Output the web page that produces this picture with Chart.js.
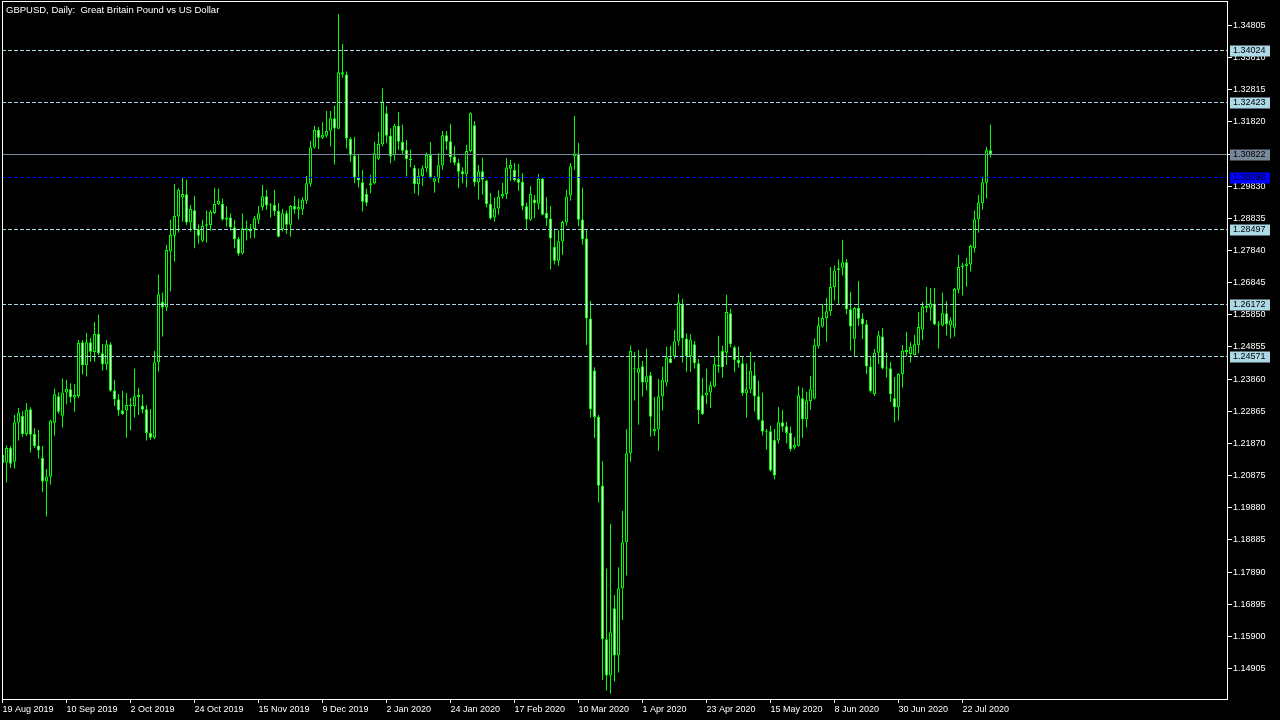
<!DOCTYPE html>
<html>
<head>
<meta charset="utf-8">
<title>GBPUSD, Daily</title>
<script src="https://cdn.jsdelivr.net/npm/chart.js@4.4.1/dist/chart.umd.min.js"></script>
<style>
  html, body { margin: 0; padding: 0; background: #000; }
  canvas { display: block; }
</style>
</head>
<body>
<canvas id="gbpusd" width="1280" height="720"></canvas>
<script>
// daily bars, 19 Aug 2019 .. 31 Jul 2020
const opens = [
  1.2151, 1.2128, 1.2173, 1.2130, 1.2251, 1.2272, 1.2216, 1.2293, 1.2216, 1.2181,
  1.2142, 1.2069, 1.2084, 1.2251, 1.2333, 1.2273, 1.2345, 1.2355, 1.2329, 1.2334,
  1.2500, 1.2429, 1.2500, 1.2470, 1.2526, 1.2466, 1.2432, 1.2494, 1.2351, 1.2324,
  1.2289, 1.2289, 1.2302, 1.2302, 1.2330, 1.2304, 1.2293, 1.2219, 1.2205, 1.2438,
  1.2625, 1.2608, 1.2781, 1.2830, 1.2889, 1.2948, 1.2958, 1.2871, 1.2909, 1.2850,
  1.2814, 1.2861, 1.2863, 1.2900, 1.2927, 1.2928, 1.2880, 1.2886, 1.2856, 1.2820,
  1.2775, 1.2846, 1.2850, 1.2851, 1.2879, 1.2919, 1.2952, 1.2925, 1.2925, 1.2906,
  1.2851, 1.2899, 1.2864, 1.2922, 1.2911, 1.2911, 1.2938, 1.2991, 1.3103, 1.3157,
  1.3133, 1.3139, 1.3155, 1.3193, 1.3161, 1.3329, 1.3329, 1.3129, 1.3078, 1.3010,
  1.2995, 1.2959, 1.2986, 1.2992, 1.3068, 1.3113, 1.3209, 1.3139, 1.3079, 1.3170,
  1.3120, 1.3095, 1.3068, 1.3040, 1.2989, 1.3015, 1.3039, 1.3080, 1.2997, 1.3007,
  1.3047, 1.3141, 1.3122, 1.3075, 1.3056, 1.3029, 1.3020, 1.3092, 1.3172, 1.2995,
  1.3029, 1.3001, 1.2928, 1.2886, 1.2914, 1.2951, 1.2959, 1.3037, 1.3033, 1.3005,
  1.2997, 1.2921, 1.2879, 1.2942, 1.2929, 1.3006, 1.2900, 1.2883, 1.2795, 1.2752,
  1.2812, 1.2871, 1.2954, 1.3075, 1.3084, 1.2880, 1.2821, 1.2574, 1.2413, 1.2269,
  1.2056, 1.1581, 1.1469, 1.1677, 1.1531, 1.1739, 1.1881, 1.2157, 1.2420, 1.2406,
  1.2426, 1.2376, 1.2398, 1.2224, 1.2230, 1.2333, 1.2376, 1.2451, 1.2457, 1.2503,
  1.2616, 1.2512, 1.2457, 1.2494, 1.2435, 1.2336, 1.2336, 1.2345, 1.2363, 1.2425,
  1.2473, 1.2468, 1.2590, 1.2485, 1.2445, 1.2435, 1.2342, 1.2354, 1.2398, 1.2333,
  1.2259, 1.2225, 1.2225, 1.2198, 1.2196, 1.2253, 1.2240, 1.2219, 1.2174, 1.2180,
  1.2327, 1.2262, 1.2318, 1.2326, 1.2488, 1.2549, 1.2575, 1.2596, 1.2671, 1.2723,
  1.2731, 1.2748, 1.2602, 1.2511, 1.2606, 1.2574, 1.2556, 1.2425, 1.2340, 1.2468,
  1.2518, 1.2419, 1.2420, 1.2327, 1.2299, 1.2401, 1.2476, 1.2464, 1.2461, 1.2491,
  1.2539, 1.2607, 1.2607, 1.2619, 1.2556, 1.2552, 1.2590, 1.2553, 1.2545, 1.2663,
  1.2732, 1.2736, 1.2741, 1.2791, 1.2881, 1.2930, 1.2994, 1.3094
];
const highs = [
  1.2162, 1.2181, 1.2179, 1.2275, 1.2297, 1.2287, 1.2312, 1.2299, 1.2235, 1.2229,
  1.2179, 1.2108, 1.2260, 1.2356, 1.2345, 1.2387, 1.2383, 1.2373, 1.2370, 1.2507,
  1.2507, 1.2529, 1.2513, 1.2563, 1.2585, 1.2495, 1.2507, 1.2500, 1.2383, 1.2340,
  1.2350, 1.2343, 1.2328, 1.2418, 1.2359, 1.2339, 1.2306, 1.2294, 1.2473, 1.2709,
  1.2653, 1.2801, 1.2879, 1.2990, 1.2977, 1.3010, 1.3003, 1.2925, 1.2953, 1.2865,
  1.2879, 1.2907, 1.2909, 1.2978, 1.2975, 1.2944, 1.2920, 1.2899, 1.2879, 1.2827,
  1.2899, 1.2876, 1.2866, 1.2891, 1.2922, 1.2987, 1.2972, 1.2930, 1.2972, 1.2931,
  1.2913, 1.2908, 1.2925, 1.2953, 1.2944, 1.2949, 1.3015, 1.3123, 1.3170, 1.3166,
  1.3182, 1.3216, 1.3216, 1.3232, 1.3516, 1.3423, 1.3338, 1.3135, 1.3135, 1.3082,
  1.3033, 1.2975, 1.3018, 1.3121, 1.3151, 1.3286, 1.3231, 1.3162, 1.3176, 1.3213,
  1.3173, 1.3126, 1.3097, 1.3049, 1.3038, 1.3047, 1.3087, 1.3120, 1.3015, 1.3085,
  1.3154, 1.3154, 1.3176, 1.3108, 1.3067, 1.3042, 1.3111, 1.3212, 1.3185, 1.3049,
  1.3072, 1.3003, 1.2962, 1.2948, 1.2970, 1.2993, 1.3070, 1.3064, 1.3055, 1.3052,
  1.3024, 1.2933, 1.2984, 1.2956, 1.3021, 1.3010, 1.2950, 1.2922, 1.2852, 1.2847,
  1.2876, 1.2972, 1.3055, 1.3200, 1.3117, 1.2978, 1.2847, 1.2628, 1.2423, 1.2275,
  1.2133, 1.1799, 1.1938, 1.1718, 1.1804, 1.1978, 1.2232, 1.2489, 1.2470, 1.2476,
  1.2442, 1.2480, 1.2408, 1.2331, 1.2387, 1.2424, 1.2486, 1.2489, 1.2538, 1.2650,
  1.2634, 1.2528, 1.2525, 1.2504, 1.2448, 1.2390, 1.2418, 1.2379, 1.2457, 1.2520,
  1.2489, 1.2647, 1.2604, 1.2489, 1.2486, 1.2455, 1.2435, 1.2471, 1.2440, 1.2381,
  1.2344, 1.2232, 1.2242, 1.2232, 1.2300, 1.2291, 1.2254, 1.2239, 1.2207, 1.2365,
  1.2359, 1.2347, 1.2396, 1.2511, 1.2578, 1.2619, 1.2637, 1.2733, 1.2738, 1.2757,
  1.2817, 1.2758, 1.2656, 1.2610, 1.2690, 1.2590, 1.2569, 1.2458, 1.2479, 1.2535,
  1.2544, 1.2468, 1.2439, 1.2393, 1.2404, 1.2491, 1.2532, 1.2500, 1.2523, 1.2594,
  1.2625, 1.2671, 1.2668, 1.2668, 1.2565, 1.2653, 1.2628, 1.2577, 1.2668, 1.2770,
  1.2746, 1.2761, 1.2803, 1.2907, 1.2956, 1.3013, 1.3105, 1.3173
];
const lows = [
  1.2115, 1.2066, 1.2111, 1.2109, 1.2196, 1.2208, 1.2210, 1.2159, 1.2173, 1.2140,
  1.2037, 1.1961, 1.2059, 1.2211, 1.2279, 1.2236, 1.2308, 1.2313, 1.2285, 1.2328,
  1.2400, 1.2394, 1.2440, 1.2440, 1.2461, 1.2412, 1.2414, 1.2347, 1.2303, 1.2273,
  1.2275, 1.2205, 1.2227, 1.2267, 1.2275, 1.2280, 1.2196, 1.2198, 1.2200, 1.2410,
  1.2518, 1.2598, 1.2657, 1.2750, 1.2840, 1.2874, 1.2863, 1.2843, 1.2791, 1.2805,
  1.2810, 1.2809, 1.2845, 1.2897, 1.2925, 1.2877, 1.2858, 1.2846, 1.2791, 1.2768,
  1.2772, 1.2815, 1.2821, 1.2823, 1.2866, 1.2908, 1.2911, 1.2886, 1.2892, 1.2825,
  1.2843, 1.2836, 1.2827, 1.2898, 1.2880, 1.2894, 1.2928, 1.2981, 1.3100, 1.3098,
  1.3129, 1.3133, 1.3106, 1.3050, 1.3161, 1.3319, 1.3100, 1.3059, 1.2992, 1.2979,
  1.2905, 1.2922, 1.2961, 1.2988, 1.3064, 1.3106, 1.3116, 1.3054, 1.3062, 1.3095,
  1.3083, 1.3013, 1.3042, 1.2961, 1.2954, 1.2984, 1.3026, 1.3006, 1.2963, 1.2994,
  1.3034, 1.3095, 1.3056, 1.3048, 1.2977, 1.2992, 1.2980, 1.3087, 1.2982, 1.2943,
  1.2957, 1.2918, 1.2880, 1.2873, 1.2895, 1.2944, 1.2944, 1.2999, 1.2998, 1.2969,
  1.2909, 1.2850, 1.2876, 1.2885, 1.2911, 1.2893, 1.2861, 1.2725, 1.2741, 1.2737,
  1.2770, 1.2861, 1.2938, 1.3034, 1.2859, 1.2802, 1.2492, 1.2267, 1.2204, 1.2004,
  1.1455, 1.1422, 1.1413, 1.1450, 1.1478, 1.1641, 1.1778, 1.2130, 1.2320, 1.2245,
  1.2332, 1.2351, 1.2208, 1.2210, 1.2164, 1.2289, 1.2363, 1.2435, 1.2448, 1.2490,
  1.2437, 1.2409, 1.2409, 1.2419, 1.2247, 1.2275, 1.2309, 1.2297, 1.2360, 1.2406,
  1.2391, 1.2430, 1.2485, 1.2407, 1.2422, 1.2335, 1.2267, 1.2342, 1.2286, 1.2258,
  1.2212, 1.2168, 1.2100, 1.2076, 1.2187, 1.2223, 1.2188, 1.2162, 1.2169, 1.2177,
  1.2205, 1.2236, 1.2291, 1.2323, 1.2481, 1.2546, 1.2502, 1.2582, 1.2629, 1.2619,
  1.2707, 1.2587, 1.2474, 1.2456, 1.2551, 1.2510, 1.2402, 1.2344, 1.2334, 1.2433,
  1.2417, 1.2391, 1.2315, 1.2252, 1.2258, 1.2360, 1.2456, 1.2437, 1.2459, 1.2466,
  1.2507, 1.2592, 1.2567, 1.2553, 1.2480, 1.2549, 1.2521, 1.2511, 1.2517, 1.2651,
  1.2645, 1.2672, 1.2719, 1.2778, 1.2839, 1.2911, 1.2945, 1.3072
];
const closes = [
  1.2126, 1.2173, 1.2124, 1.2253, 1.2283, 1.2216, 1.2291, 1.2214, 1.2179, 1.2165,
  1.2069, 1.2085, 1.2257, 1.2339, 1.2285, 1.2345, 1.2356, 1.2330, 1.2337, 1.2498,
  1.2429, 1.2500, 1.2471, 1.2526, 1.2466, 1.2432, 1.2494, 1.2350, 1.2324, 1.2289,
  1.2278, 1.2306, 1.2306, 1.2333, 1.2337, 1.2291, 1.2219, 1.2205, 1.2438, 1.2649,
  1.2608, 1.2786, 1.2832, 1.2891, 1.2972, 1.2959, 1.2871, 1.2913, 1.2848, 1.2830,
  1.2860, 1.2865, 1.2904, 1.2928, 1.2938, 1.2880, 1.2886, 1.2855, 1.2819, 1.2774,
  1.2853, 1.2853, 1.2843, 1.2884, 1.2899, 1.2952, 1.2923, 1.2923, 1.2906, 1.2827,
  1.2899, 1.2864, 1.2922, 1.2911, 1.2919, 1.2941, 1.2992, 1.3104, 1.3157, 1.3133,
  1.3142, 1.3154, 1.3193, 1.3162, 1.3336, 1.3336, 1.3131, 1.3078, 1.3010, 1.3001,
  1.2935, 1.2932, 1.2992, 1.3085, 1.3114, 1.3245, 1.3139, 1.3075, 1.3170, 1.3121,
  1.3093, 1.3067, 1.3064, 1.2990, 1.3015, 1.3039, 1.3080, 1.3011, 1.3008, 1.3048,
  1.3141, 1.3121, 1.3073, 1.3056, 1.3028, 1.3020, 1.3092, 1.3209, 1.2995, 1.3029,
  1.3003, 1.2928, 1.2883, 1.2915, 1.2951, 1.2959, 1.3041, 1.3049, 1.3002, 1.2994,
  1.2921, 1.2880, 1.2959, 1.2930, 1.3006, 1.2895, 1.2883, 1.2821, 1.2752, 1.2813,
  1.2872, 1.2951, 1.3045, 1.3084, 1.2879, 1.2819, 1.2574, 1.2293, 1.2269, 1.2056,
  1.1582, 1.1469, 1.1603, 1.1531, 1.1739, 1.1881, 1.2157, 1.2474, 1.2418, 1.2420,
  1.2376, 1.2395, 1.2270, 1.2232, 1.2333, 1.2384, 1.2454, 1.2436, 1.2503, 1.2624,
  1.2512, 1.2457, 1.2509, 1.2435, 1.2290, 1.2278, 1.2345, 1.2367, 1.2432, 1.2430,
  1.2423, 1.2594, 1.2494, 1.2445, 1.2435, 1.2342, 1.2355, 1.2412, 1.2333, 1.2260,
  1.2224, 1.2222, 1.2103, 1.2088, 1.2253, 1.2239, 1.2219, 1.2169, 1.2183, 1.2336,
  1.2262, 1.2321, 1.2355, 1.2491, 1.2553, 1.2575, 1.2596, 1.2671, 1.2722, 1.2729,
  1.2748, 1.2602, 1.2549, 1.2606, 1.2573, 1.2556, 1.2425, 1.2349, 1.2468, 1.2522,
  1.2419, 1.2422, 1.2339, 1.2299, 1.2402, 1.2475, 1.2469, 1.2486, 1.2494, 1.2547,
  1.2611, 1.2613, 1.2621, 1.2555, 1.2552, 1.2590, 1.2557, 1.2568, 1.2665, 1.2733,
  1.2738, 1.2744, 1.2798, 1.2881, 1.2933, 1.2995, 1.3094, 1.3082
];

// one date label every 16 bars
const dateLabels = [
  "19 Aug 2019", "10 Sep 2019", "2 Oct 2019", "24 Oct 2019", "15 Nov 2019",
  "9 Dec 2019", "2 Jan 2020", "24 Jan 2020", "17 Feb 2020", "10 Mar 2020",
  "1 Apr 2020", "23 Apr 2020", "15 May 2020", "8 Jun 2020", "30 Jun 2020",
  "22 Jul 2020"
];
const priceTicks = [
  1.34805, 1.33810, 1.32815, 1.31820, 1.30825, 1.29830, 1.28835, 1.27840,
  1.26845, 1.25850, 1.24855, 1.23860, 1.22865, 1.21870, 1.20875, 1.19880,
  1.18885, 1.17890, 1.16895, 1.15900, 1.14905
];
const levelLines = [1.34024, 1.32423, 1.28497, 1.26172, 1.24571];
const markerLine = 1.30098;
const bidPrice = 1.30822;

const title = "GBPUSD, Daily:  Great Britain Pound vs US Dollar";
const BAR_STEP = 16;
const GREEN = "#00ff00";
const LEVEL_COLOR = "#add8e6";
const MARKER_COLOR = "#0000ff";
const BID_COLOR = "#778899";
const FONT = "'Liberation Sans', Arial, sans-serif";

Chart.defaults.font.family = FONT;
Chart.defaults.font.size = 9;
Chart.defaults.color = "#fff";

const bars = opens.map((_, i) => i);

const bodies = {
  data: bars.map((i) => ({ x: i, y: [opens[i], closes[i]] })),
  backgroundColor: (ctx) =>
    closes[ctx.dataIndex] < opens[ctx.dataIndex] ? "#ffffff" : "#000000",
  borderColor: GREEN,
  borderWidth: 1,
  borderSkipped: false,
  barThickness: 3,
  minBarLength: 1,
  inflateAmount: 0,
  stack: "candle",
  clip: 0,
};

const wicks = {
  data: bars.map((i) => ({ x: i, y: [lows[i], highs[i]] })),
  backgroundColor: GREEN,
  borderWidth: 0,
  barThickness: 1,
  inflateAmount: 0,
  stack: "candle",
  clip: 0,
};

const tag = (ctx, left, y, text, bg, fg) => {
  ctx.fillStyle = bg;
  ctx.fillRect(left + 2, y - 5, 40, 11);
  ctx.fillStyle = fg;
  ctx.fillText(text, left + 5, y + 0.5);
};

const mt4Overlay = {
  id: "mt4Overlay",
  afterDatasetsDraw(chart) {
    const { ctx, chartArea: a, scales } = chart;
    const hline = (price, color, dash) => {
      const py = Math.floor(scales.y.getPixelForValue(price)) + 0.5;
      ctx.save();
      ctx.strokeStyle = color;
      ctx.lineWidth = 1;
      ctx.setLineDash(dash);
      ctx.beginPath();
      ctx.moveTo(a.left, py);
      ctx.lineTo(a.right, py);
      ctx.stroke();
      ctx.restore();
    };
    levelLines.forEach((p) => hline(p, LEVEL_COLOR, [4, 2]));
    hline(markerLine, MARKER_COLOR, [4, 2]);
    hline(bidPrice, BID_COLOR, []);
  },
  afterDraw(chart) {
    const { ctx, chartArea: a, scales } = chart;
    ctx.save();
    // frame
    ctx.strokeStyle = "#fff";
    ctx.lineWidth = 1;
    ctx.strokeRect(a.left + 0.5, a.top - 0.5, a.right - a.left - 1, a.bottom - a.top + 1);
    // title
    ctx.font = "9.5px " + FONT;
    ctx.fillStyle = "#fff";
    ctx.textBaseline = "alphabetic";
    ctx.fillText(title, a.left + 4, a.top + 11);
    // price tags on the axis
    ctx.font = "9px " + FONT;
    ctx.textBaseline = "middle";
    const py = (p) => Math.floor(scales.y.getPixelForValue(p)) + 0.5;
    levelLines.forEach((p) => tag(ctx, a.right, py(p), p.toFixed(5), LEVEL_COLOR, "#000"));
    tag(ctx, a.right, py(markerLine), markerLine.toFixed(5), MARKER_COLOR, "#000");
    tag(ctx, a.right, py(bidPrice), bidPrice.toFixed(5), BID_COLOR, "#000");
    ctx.restore();
  },
};

new Chart("gbpusd", {
  type: "bar",
  data: { datasets: [bodies, wicks] },
  options: {
    responsive: false,
    animation: false,
    events: [],
    layout: { padding: { left: 2, top: 2, right: 0, bottom: 0 } },
    plugins: { legend: { display: false }, tooltip: { enabled: false } },
    scales: {
      x: {
        type: "linear",
        min: -0.125,
        max: 306.375,
        offset: false,
        bounds: "data",
        grid: { offset: false, drawOnChartArea: false, tickLength: 4, color: "#fff" },
        border: { display: false },
        afterBuildTicks: (s) => {
          s.ticks = dateLabels.map((_, k) => ({ value: k * BAR_STEP }));
        },
        ticks: {
          autoSkip: false,
          maxRotation: 0,
          align: "start",
          padding: 1,
          callback: (v) => dateLabels[Math.round(v / BAR_STEP)],
        },
        afterFit: (s) => {
          s.height = 21;
          s.paddingLeft = 0;
          s.paddingRight = 0;
        },
      },
      y: {
        position: "right",
        min: 1.13962,
        max: 1.35531,
        stacked: false,
        beginAtZero: false,
        bounds: "data",
        grid: { drawOnChartArea: false, tickLength: 4, color: "#fff" },
        border: { display: false },
        afterBuildTicks: (s) => {
          s.ticks = priceTicks.map((v) => ({ value: v }));
        },
        ticks: { autoSkip: false, padding: 1, callback: (v) => v.toFixed(5) },
        afterFit: (s) => {
          s.width = 52;
          s.paddingTop = 0;
          s.paddingBottom = 0;
        },
      },
    },
  },
  plugins: [mt4Overlay],
});
</script>
</body>
</html>
